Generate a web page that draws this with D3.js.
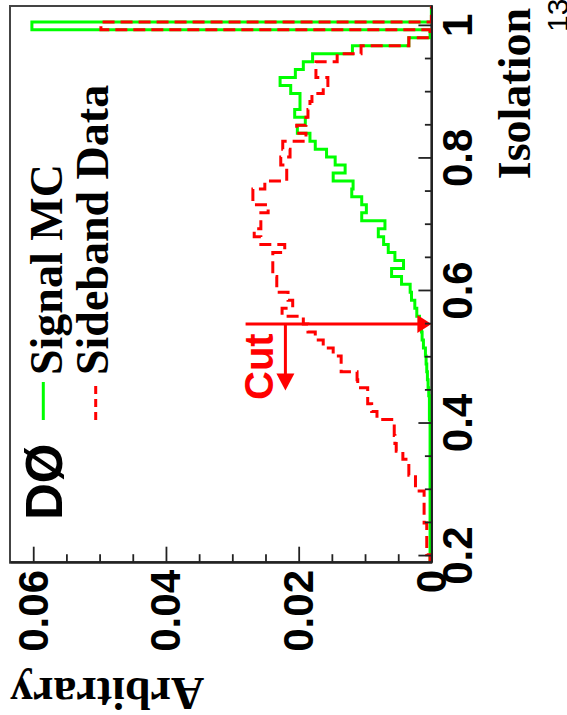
<!DOCTYPE html>
<html>
<head>
<meta charset="utf-8">
<script src="https://cdn.jsdelivr.net/npm/d3@7"></script>
<style>
  html, body { margin: 0; padding: 0; background: #fff; }
  svg { display: block; }
</style>
</head>
<body>
<svg id="chart" width="567" height="715"></svg>
<script>
// Isolation distributions: 70 bins of width 0.012 between 0.19 and 1.03
const isoRange = [0.19, 1.03];
const binCount = 70;

const signalMC = [
  0.0002, 0.0002, 0.0002, 0.0002, 0.0002, 0.0002, 0.0002, 0.0002, 0.0002, 0.0002,
  0.0002, 0.0002, 0.0002, 0.0002, 0.0002, 0.0002, 0.0002, 0.0002, 0.0003, 0.0003,
  0.0003, 0.0004, 0.0005, 0.0006, 0.0007, 0.0008, 0.0009, 0.0012, 0.0014, 0.0015,
  0.0018, 0.0022, 0.0025, 0.0030, 0.0032, 0.0045, 0.0060, 0.0042, 0.0055, 0.0065,
  0.0072, 0.0080, 0.0070, 0.0105, 0.0098, 0.0105, 0.0120, 0.0118, 0.0148, 0.0130,
  0.0145, 0.0158, 0.0175, 0.0183, 0.0202, 0.0190, 0.0206, 0.0198, 0.0198, 0.0212,
  0.0228, 0.0205, 0.0193, 0.0179, 0.0119, 0.0034, 0.0002, 0.0602, 0, 0
];

const sidebandData = [
  0.0002, 0.0007, 0.0007, 0.0007, 0.0007, 0.0011, 0.0011, 0.0011, 0.0011, 0.0024,
  0.0024, 0.0034, 0.0034, 0.0043, 0.0053, 0.0055, 0.0056, 0.0056, 0.0082, 0.0090,
  0.0096, 0.0096, 0.0111, 0.0112, 0.0136, 0.0136, 0.0148, 0.0163, 0.0175, 0.0186,
  0.0193, 0.0225, 0.0209, 0.0216, 0.0233, 0.0233, 0.0239, 0.0239, 0.0239, 0.0221,
  0.0257, 0.0267, 0.0257, 0.0257, 0.0246, 0.0269, 0.0269, 0.0251, 0.0218, 0.0218,
  0.0227, 0.0213, 0.0224, 0.0189, 0.0203, 0.0189, 0.0186, 0.0183, 0.0180, 0.0163,
  0.0156, 0.0174, 0.0174, 0.0142, 0.0106, 0.0034, 0.0002, 0.0498, 0, 0
];

const isoMajorTicks = [0.2, 0.4, 0.6, 0.8, 1.0];
const isoTickLabels = ["0.2", "0.4", "0.6", "0.8", "1"];
const isoMinorTicks = [0.25, 0.3, 0.35, 0.45, 0.5, 0.55, 0.65, 0.7, 0.75, 0.85, 0.9, 0.95];

const valueRange = [0, 0.0635];
const valueMajorTicks = [0, 0.02, 0.04, 0.06];
const valueTickLabels = ["0", "0.02", "0.04", "0.06"];
const valueMinorTicks = [0.005, 0.01, 0.015, 0.025, 0.03, 0.035, 0.045, 0.05, 0.055];

// Cut marker: vertical line at the cut value, arrow pointing to the accepted side
const cutIso = 0.55;
const cutArrowEnd = 0.45;
const cutLineTop = 0.028;
const cutArrowLevel = 0.022;

const legendLabels = ["Signal MC", "Sideband Data"];
const xTitle = "Isolation";
const yTitle = "Arbitrary";
const experimentLabel = "DØ";
const cutLabel = "Cut";
const pageNumber = "13";

const GREEN = "#00ff00";
const RED = "#ff0000";
const SANS = "'Liberation Sans', Arial, sans-serif";
const SERIF = "'Liberation Serif', 'Times New Roman', serif";

const svg = d3.select("#chart");
svg.append("rect").attr("width", 567).attr("height", 715).attr("fill", "#fff");

// The whole plot is laid out in landscape and turned a quarter turn
const g = svg.append("g").attr("transform", "translate(0,715) rotate(-90)");

const x = d3.scaleLinear().domain(isoRange).range([152.3, 709]);
const y = d3.scaleLinear().domain(valueRange).range([431.4, 10]);

// frame
g.append("rect")
  .attr("x", x(isoRange[0])).attr("y", y(valueRange[1]))
  .attr("width", x(isoRange[1]) - x(isoRange[0]))
  .attr("height", y(valueRange[0]) - y(valueRange[1]))
  .attr("fill", "#fff").attr("stroke", "#444").attr("stroke-width", 2);

// histogram outlines
const binWidth = (isoRange[1] - isoRange[0]) / binCount;
function stepPoints(values) {
  const pts = values.map((v, i) => [isoRange[0] + i * binWidth, v]);
  pts.push([isoRange[1], values[values.length - 1]]);
  return pts;
}
const step = d3.line()
  .x(d => x(d[0]))
  .y(d => y(d[1]))
  .curve(d3.curveStepAfter);

g.append("path")
  .attr("d", step(stepPoints(signalMC)))
  .attr("fill", "none").attr("stroke", GREEN).attr("stroke-width", 3);

g.append("path")
  .attr("d", step(stepPoints(sidebandData)))
  .attr("fill", "none").attr("stroke", RED).attr("stroke-width", 3)
  .attr("stroke-dasharray", "12,6");

// cut line and arrow
const cx = x(cutIso);
g.append("line")
  .attr("x1", cx).attr("x2", cx)
  .attr("y1", y(cutLineTop)).attr("y2", y(0) - 12)
  .attr("stroke", RED).attr("stroke-width", 3);
g.append("path")
  .attr("d", `M${cx},${y(0)} L${cx - 9},${y(0) - 14} L${cx + 9},${y(0) - 14} Z`)
  .attr("fill", RED);
const ay = y(cutArrowLevel);
const ax = x(cutArrowEnd);
g.append("line")
  .attr("x1", cx).attr("x2", ax + 14)
  .attr("y1", ay).attr("y2", ay)
  .attr("stroke", RED).attr("stroke-width", 3);
g.append("path")
  .attr("d", `M${ax},${ay} L${ax + 17},${ay - 9} L${ax + 17},${ay + 9} Z`)
  .attr("fill", RED);

// axes
function styleAxis(sel) {
  sel.select(".domain").attr("stroke", "#222").attr("stroke-width", 2);
  sel.selectAll(".tick line").attr("stroke", "#222").attr("stroke-width", 1.8);
}

const xMinor = g.append("g").attr("transform", `translate(0,${y(0)})`)
  .call(d3.axisBottom(x).tickValues(isoMinorTicks).tickSize(-6.5).tickSizeOuter(0).tickFormat(""));
styleAxis(xMinor);
const xMajor = g.append("g").attr("transform", `translate(0,${y(0)})`)
  .call(d3.axisBottom(x).tickValues(isoMajorTicks).tickSize(-13).tickSizeOuter(0)
    .tickFormat((d, i) => isoTickLabels[i]));
styleAxis(xMajor);
xMajor.attr("font-family", SANS).attr("font-size", 42).attr("font-weight", "bold");
xMajor.selectAll(".tick text").attr("y", 472 - y(0)).attr("dy", "0").attr("fill", "#000");

const yMinor = g.append("g").attr("transform", `translate(${x(isoRange[0])},0)`)
  .call(d3.axisLeft(y).tickValues(valueMinorTicks).tickSize(-8.5).tickSizeOuter(0).tickFormat(""));
styleAxis(yMinor);
const yMajor = g.append("g").attr("transform", `translate(${x(isoRange[0])},0)`)
  .call(d3.axisLeft(y).tickValues(valueMajorTicks).tickSize(-16).tickSizeOuter(0)
    .tickFormat((d, i) => valueTickLabels[i]));
styleAxis(yMajor);
yMajor.attr("font-family", SANS).attr("font-size", 42).attr("font-weight", "bold");
yMajor.selectAll(".tick text").attr("x", 145 - x(isoRange[0])).attr("y", 14).attr("dy", "0").attr("fill", "#000");

// axis titles
g.append("text")
  .attr("x", 707).attr("y", 530)
  .attr("text-anchor", "end")
  .attr("font-family", SERIF).attr("font-weight", "bold").attr("font-size", 46)
  .text(xTitle);

g.append("text")
  .attr("transform", `translate(37,${y(valueRange[1])}) rotate(-90)`)
  .attr("text-anchor", "end")
  .attr("font-family", SERIF).attr("font-weight", "bold").attr("font-size", 46)
  .text(yTitle);

// experiment label
g.append("text")
  .attr("x", 195).attr("y", 62)
  .attr("font-family", SANS).attr("font-weight", "bold").attr("font-size", 51)
  .text(experimentLabel);

// legend
const legendRows = [
  { label: legendLabels[0], color: GREEN, dash: null, lineY: 43.3, textY: 62 },
  { label: legendLabels[1], color: RED, dash: "8,5", lineY: 95.7, textY: 108 }
];
legendRows.forEach(r => {
  g.append("line")
    .attr("x1", 295).attr("x2", 333)
    .attr("y1", r.lineY).attr("y2", r.lineY)
    .attr("stroke", r.color).attr("stroke-width", 3)
    .attr("stroke-dasharray", r.dash);
  g.append("text")
    .attr("x", 340).attr("y", r.textY)
    .attr("font-family", SERIF).attr("font-weight", "bold").attr("font-size", 46)
    .attr("fill", "#000")
    .text(r.label);
});

// cut label
g.append("text")
  .attr("x", 315).attr("y", 273)
  .attr("font-family", SANS).attr("font-weight", "bold").attr("font-size", 40)
  .attr("fill", RED)
  .text(cutLabel);

// page number
g.append("text")
  .attr("x", 683).attr("y", 568)
  .attr("font-family", SANS).attr("font-size", 30)
  .attr("fill", "#000")
  .text(pageNumber);
</script>
</body>
</html>
